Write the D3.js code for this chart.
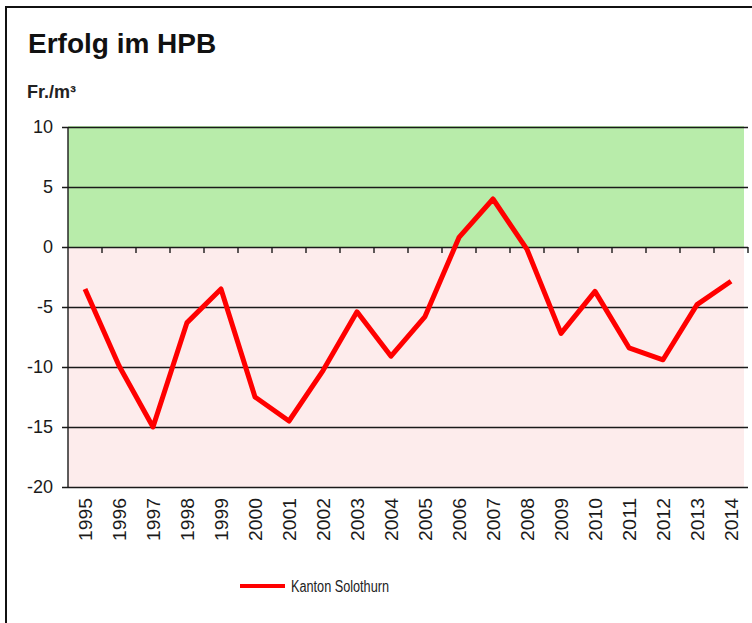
<!DOCTYPE html>
<html>
<head>
<meta charset="utf-8">
<script src="https://cdn.jsdelivr.net/npm/d3@7/dist/d3.min.js"></script>
<style>
    body { margin: 0; background: #fff; }
    text { font-family: "Liberation Sans", Arial, sans-serif; }
</style>
</head>
<body>
<div id="chart"></div>
<script>
const years = ['1995', '1996', '1997', '1998', '1999', '2000', '2001', '2002', '2003', '2004',
    '2005', '2006', '2007', '2008', '2009', '2010', '2011', '2012', '2013', '2014']
const erfolg = [-3.5, -9.9, -15.0, -6.3, -3.5, -12.5, -14.5, -10.3, -5.4, -9.1,
    -5.8, 0.8, 4.0, -0.2, -7.2, -3.7, -8.4, -9.4, -4.8, -2.85]
const yTicks = [10, 5, 0, -5, -10, -15, -20]
const seriesName = 'Kanton Solothurn'

const width = 752
const height = 623
const margin = { top: 127, right: 4, bottom: 136, left: 68 }

const svg = d3.select('#chart')
    .append('svg')
    .attr('width', width)
    .attr('height', height)

// outer frame (only top/left visible)
svg.append('rect')
    .attr('x', 6)
    .attr('y', 7)
    .attr('width', width + 20)
    .attr('height', height + 20)
    .attr('fill', '#fff')
    .attr('stroke', '#111')
    .attr('stroke-width', 2)

const xScale = d3.scaleBand()
    .domain(years)
    .range([margin.left, width - margin.right])

const yScale = d3.scaleLinear()
    .domain([-20, 10])
    .range([height - margin.bottom, margin.top])

/* background zones */
svg.append('rect')
    .attr('x', margin.left)
    .attr('y', yScale(10) - 1)
    .attr('width', xScale.range()[1] - margin.left - 4)
    .attr('height', yScale(0) - yScale(10) + 1)
    .attr('fill', '#b8ecaa')
svg.append('rect')
    .attr('x', margin.left)
    .attr('y', yScale(0))
    .attr('width', xScale.range()[1] - margin.left - 4)
    .attr('height', yScale(-20) - yScale(0))
    .attr('fill', '#fdecec')

/* y axis with gridlines */
const yAxis = d3.axisLeft(yScale)
    .tickValues(yTicks)
    .tickFormat(d => String(d))
    .tickSize(-(xScale.range()[1] - margin.left))
    .tickPadding(15)

const yG = svg.append('g')
    .attr('transform', `translate(${margin.left},0)`)
    .call(yAxis)
yG.select('.domain').remove()
yG.selectAll('.tick line')
    .attr('stroke', '#1a1a1a')
    .attr('stroke-width', 1.4)
    .attr('x1', -6)
yG.selectAll('text')
    .attr('font-size', 18)
    .attr('fill', '#1a1a1a')

svg.append('line')
    .attr('x1', margin.left)
    .attr('x2', margin.left)
    .attr('y1', yScale(10))
    .attr('y2', yScale(-20))
    .attr('stroke', '#1a1a1a')
    .attr('stroke-width', 1.4)

/* category ticks on the zero line */
svg.append('g')
    .selectAll('line')
    .data(years)
    .join('line')
    .attr('x1', d => xScale(d) + xScale.bandwidth())
    .attr('x2', d => xScale(d) + xScale.bandwidth())
    .attr('y1', yScale(0))
    .attr('y2', yScale(0) + 6)
    .attr('stroke', '#1a1a1a')
    .attr('stroke-width', 1.4)

/* year labels */
svg.append('g')
    .selectAll('text')
    .data(years)
    .join('text')
    .text(d => d)
    .attr('transform', d => `translate(${xScale(d) + xScale.bandwidth() / 2 + 6.5},${yScale(-20) + 11}) rotate(-90)`)
    .attr('text-anchor', 'end')
    .attr('font-size', 19)
    .attr('textLength', 43)
    .attr('lengthAdjust', 'spacingAndGlyphs')
    .attr('fill', '#1a1a1a')

/* line */
const line = d3.line()
    .x((d, i) => xScale(years[i]) + xScale.bandwidth() / 2)
    .y(d => yScale(d))

svg.append('path')
    .datum(erfolg)
    .attr('fill', 'none')
    .attr('stroke', '#ff0000')
    .attr('stroke-width', 5)
    .attr('stroke-linejoin', 'round')
    .attr('d', line)

/* title */
svg.append('text')
    .text('Erfolg im HPB')
    .attr('x', 28)
    .attr('y', 53)
    .attr('font-size', 28)
    .attr('font-weight', 'bold')
    .attr('fill', '#111')

/* unit */
svg.append('text')
    .attr('x', 27)
    .attr('y', 98)
    .attr('font-size', 18)
    .attr('font-weight', 'bold')
    .attr('fill', '#222')
    .text('Fr./m³')

/* legend */
svg.append('line')
    .attr('x1', 240)
    .attr('x2', 285)
    .attr('y1', 586)
    .attr('y2', 586)
    .attr('stroke', '#ff0000')
    .attr('stroke-width', 4)
svg.append('text')
    .text(seriesName)
    .attr('x', 291)
    .attr('y', 592)
    .attr('font-size', 16)
    .attr('textLength', 98)
    .attr('lengthAdjust', 'spacingAndGlyphs')
    .attr('fill', '#222')
</script>
</body>
</html>
